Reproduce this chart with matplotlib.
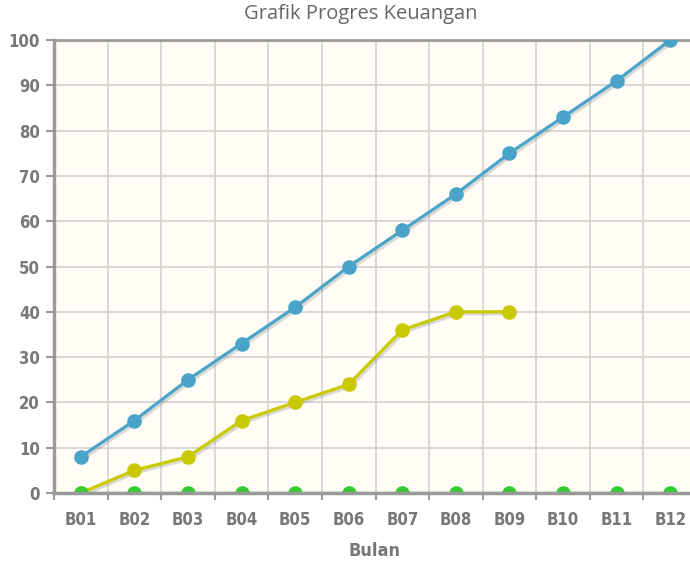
import matplotlib
matplotlib.use("Agg")
import matplotlib.pyplot as plt
import matplotlib.patheffects as pe
import numpy as np

bulan = ["B01", "B02", "B03", "B04", "B05", "B06", "B07", "B08", "B09", "B10", "B11", "B12"]
rencana = [8, 16, 25, 33, 41, 50, 58, 66, 75, 83, 91, 100]
realisasi = [0, 5, 8, 16, 20, 24, 36, 40, 40]
deviasi = [0, 0, 0, 0, 0, 0, 0, 0, 0, 0, 0, 0]

fig = plt.figure(figsize=(6.9, 5.61), dpi=100)
ax = fig.add_axes([54 / 690, 68 / 561, 643 / 690, 453 / 561])
ax.set_facecolor("#fffdf6")

shadow = [pe.SimpleLineShadow(offset=(1.5, -1.5), shadow_color="#888888", alpha=0.3), pe.Normal()]
series = [(rencana, "#4aa3c9"), (realisasi, "#c9c900"), (deviasi, "#33cc33")]
for vals, col in series:
    x = np.arange(len(vals))
    ln, = ax.plot(x, vals, color=col, lw=2.3, path_effects=shadow, zorder=3)
    ln.set_clip_path(ax.patch)
    mk, = ax.plot(x, vals, ls="none", marker="o", ms=9.5, mec=col, mfc=col, zorder=3.5)
    mk.set_clip_path(ax.patch)

ax.set_xlim(-0.5, 11.5)
ax.set_ylim(0, 100)
ax.set_yticks(range(0, 101, 10))
ax.set_xticks(np.arange(len(bulan)))
ax.set_xticklabels(bulan)
ax.set_xticks(np.arange(-0.5, 12, 1), minor=True)
ax.grid(False)
for b in np.arange(0.5, 11.5, 1):
    ax.axvline(b, color="#d5d5d5", lw=1.3, zorder=1)
for yv in range(10, 100, 10):
    ax.axhline(yv, color="#d5d5d5", lw=1.3, zorder=1)

for t in ax.get_yticklabels() + ax.get_xticklabels():
    t.set_color("#777777")
    t.set_fontsize(12)
    t.set_fontweight("bold")
    t.set_fontstretch("condensed")
ax.tick_params(axis="y", length=6, width=1.5, color="#999999", pad=4)
ax.tick_params(axis="x", which="major", length=0, pad=13)
ax.tick_params(axis="x", which="minor", length=5, width=1.5, color="#999999")

for side in ["left", "bottom"]:
    ax.spines[side].set_color("#999999")
    ax.spines[side].set_linewidth(2.5)
    ax.spines[side].set_zorder(4)
ax.spines["top"].set_color("#999999")
ax.spines["top"].set_linewidth(2)
ax.spines["right"].set_visible(False)

fig.text(361 / 690, 1 - 14 / 561, "Grafik Progres Keuangan", ha="center", va="center",
         color="#666666", fontsize=14.5, family="Open Sans")
fig.text(375 / 690, 1 - 551 / 561, "Bulan", ha="center", va="center",
         color="#777777", fontsize=13, fontweight="bold", fontstretch="condensed")

fig.savefig("out.png", dpi=100)
